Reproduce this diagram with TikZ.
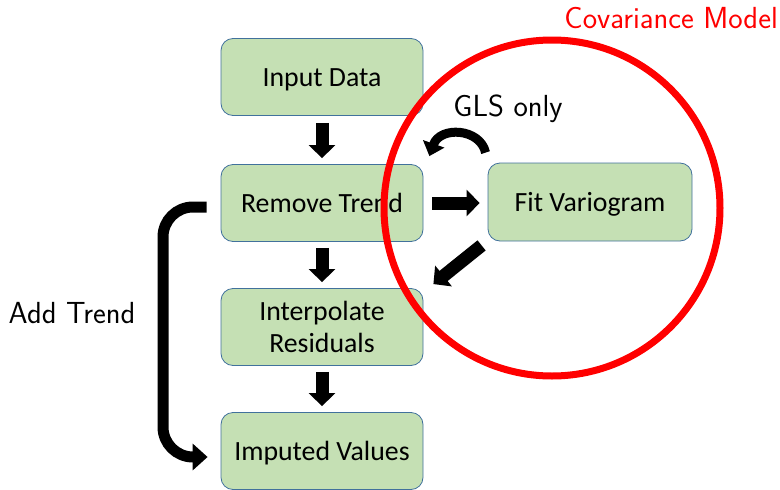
\documentclass[tikz,border=0pt]{standalone}
\usepackage{fontspec}
\newfontfamily\boxfont{Carlito}
\usetikzlibrary{arrows.meta,calc}
\definecolor{boxfill}{HTML}{C5E0B4}
\definecolor{boxline}{HTML}{41719C}
\definecolor{covred}{HTML}{FF0000}
\begin{document}
\begin{tikzpicture}[x=1pt,y=-1pt,
  stepbox/.style={draw=boxline, line width=0.8pt, fill=boxfill, rounded corners=12pt,
    minimum width=202pt, minimum height=77pt, align=center, inner sep=0pt,
    font=\boxfont\fontsize{27.8}{32}\selectfont},
  oneline/.style={text height=22pt, text depth=3pt},
  blockarrow/.style={line width=13pt, -{Triangle[width=26pt,length=13pt]}},
  lbl/.style={font=\sffamily\fontsize{30.5}{34}\selectfont, inner sep=0pt}]
\useasboundingbox (0,0) rectangle (780,490);
\node[stepbox, oneline] (in1) at (322,77) {Input Data};
\node[stepbox, oneline] (rt) at (322,203) {Remove Trend};
\node[stepbox] (ir) at (322,327) {Interpolate\\Residuals};
\node[stepbox, oneline] (iv) at (322,451) {Imputed Values};
\node[stepbox, oneline, minimum width=204pt, minimum height=78pt] (fv) at (590,202) {Fit Variogram};
% covariance circle
\draw[covred, line width=7pt] (552,208) circle[radius=168pt];
\node[lbl, text=covred, anchor=east] (cm) at (778,18) {Covariance Model};
\node[lbl] (gls) at (508,109) {GLS only};
\node[lbl] (at) at (72,313) {Add Trend};
% arrows
\draw[blockarrow] ($(in1.south)+(0,7)$) -- ($(rt.north)+(0,-6)$);
\draw[blockarrow] ($(rt.south)+(0,6)$) -- ($(ir.north)+(0,-6)$);
\draw[blockarrow] ($(ir.south)+(0,6)$) -- ($(iv.north)+(0,-6)$);
\draw[blockarrow] ($(rt.east)+(9,0)$) -- ($(fv.west)+(-8,1)$);
\draw[blockarrow] ($(fv.south west)+(-6,4)$) -- ($(ir.north east)+(10,-4)$);
\draw[line width=9pt, -{Triangle[width=22pt,length=13pt]}]
  ($(fv.north west)+(-2,-10)$) .. controls (480,128) and (440,126) .. ($(rt.north east)+(6,-8)$);
\draw[line width=11pt, rounded corners=30pt, -{Triangle[width=26pt,length=15pt]}]
  ($(rt.west)+(-14,4)$) -- (163,207) -- (163,457) -- ($(iv.west)+(-13,6)$);
\end{tikzpicture}
\end{document}
